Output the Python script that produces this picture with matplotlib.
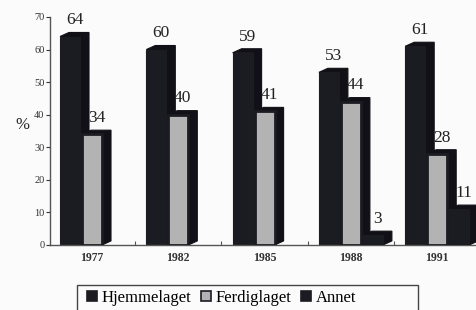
import matplotlib.pyplot as plt
from matplotlib.patches import Polygon, Rectangle

plt.rcParams['font.family'] = ['Liberation Serif', 'DejaVu Serif']

years = ['1977', '1982', '1985', '1988', '1991']
series_names = ['Hjemmelaget', 'Ferdiglaget', 'Annet']
hjemmelaget = [64, 60, 59, 53, 61]
ferdiglaget = [34, 40, 41, 44, 28]
annet = [0, 0, 0, 3, 11]

DARK = '#1b1b22'
SIDE = '#101016'
LIGHT = '#b3b3b3'
BG = '#fbfbfb'

fig = plt.figure(figsize=(4.76, 3.10), dpi=100, facecolor=BG)
ax = fig.add_axes([50 / 476, 65 / 310, 426 / 476, 228 / 310])
ax.set_facecolor(BG)

px = 86.3  # pixels per group
width = 20 / px
step = 22 / px
dx = 9 / px
dy = 1.25

offsets = [-step, 0, step]
faces = [DARK, LIGHT, DARK]
values = [hjemmelaget, ferdiglaget, annet]

for g in range(len(years)):
    for s in range(3):
        v = values[s][g]
        if v <= 0:
            continue
        xc = g + offsets[s]
        x0, x1 = xc - width / 2, xc + width / 2
        # depth (top + side)
        depth = Polygon([(x0, v), (x0 + dx, v + dy), (x1 + dx, v + dy),
                         (x1 + dx, dy), (x1, 0), (x1, v)],
                        closed=True, fc=SIDE, ec=SIDE, lw=0.8, zorder=2 + s)
        ax.add_patch(depth)
        ax.bar(xc, v, width=width, color=faces[s], edgecolor=DARK,
               linewidth=2.0 if s == 1 else 0.8, zorder=2 + s)
        ax.annotate(str(v), (xc + dx / 2, v + dy), xytext=(0, 3),
                    textcoords='offset points', ha='center', va='bottom',
                    fontsize=12.5, color='#222222', zorder=10)

ax.set_ylim(0, 70)
ax.set_xlim((50 - 92) / px, (476 - 92) / px)
ax.set_yticks(range(0, 71, 10))
ax.tick_params(axis='y', direction='out', length=3, width=0.8, pad=1,
               labelsize=7.5, colors='#333333')
ax.set_xticks(range(len(years)))
ax.set_xticklabels(years, fontsize=8.5, fontweight='bold')
ax.tick_params(axis='x', length=0, pad=5, colors='#333333')
ax.set_xticks([g + 0.5 for g in range(len(years) - 1)], minor=True)
ax.tick_params(axis='x', which='minor', direction='in', length=3,
               width=0.8, colors='#555555')

for side in ['top', 'right']:
    ax.spines[side].set_visible(False)
for side in ['left', 'bottom']:
    ax.spines[side].set_color('#555555')
    ax.spines[side].set_linewidth(1.0)

fig.text(22 / 476, 1 - 125 / 310, '%', fontsize=12, ha='center',
         va='center', color='#222222')

# legend
handles = [Rectangle((0, 0), 1, 1, fc=faces[i], ec=DARK, lw=1.2)
           for i in range(3)]
fig.legend(handles, series_names, loc='center left',
           bbox_to_anchor=(79 / 476, 1 - 298 / 310), ncol=3, frameon=False,
           fontsize=12, handlelength=0.6, handleheight=0.6,
           handletextpad=0.25, columnspacing=0.6, borderpad=0)
fig.patches.append(Rectangle((77 / 476, -0.02), 341 / 476, 0.02 + 25 / 310,
                             transform=fig.transFigure, fill=False,
                             ec='#444444', lw=1.0))

fig.savefig('out.png', dpi=100, facecolor=BG)
